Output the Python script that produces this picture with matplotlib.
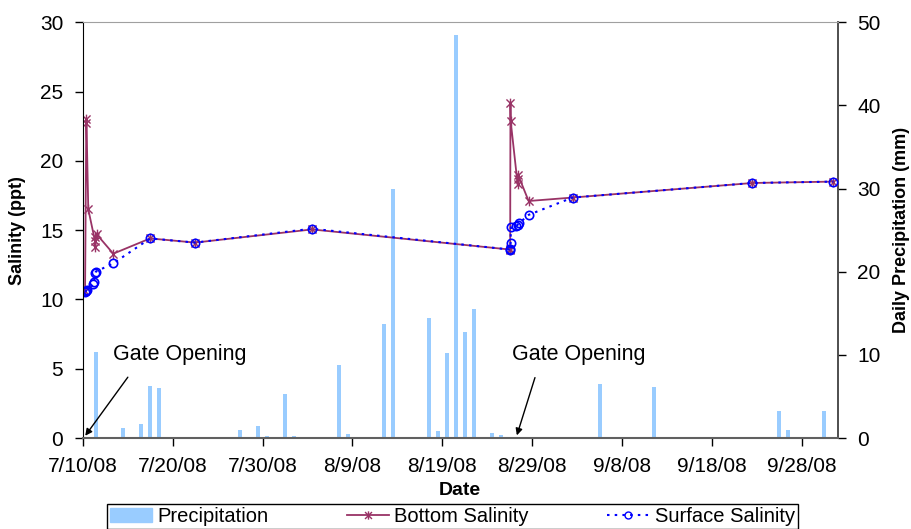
from datetime import datetime
import matplotlib
matplotlib.use("Agg")
import matplotlib.pyplot as plt
import matplotlib.dates as mdates
from matplotlib.path import Path
from matplotlib.patches import Patch
from matplotlib.lines import Line2D

plt.rcParams['font.family'] = ['Liberation Sans', 'DejaVu Sans']

START = datetime(2008, 7, 10)

# daily precipitation (mm)
precip_dates = ["7/11", "7/14", "7/16", "7/17", "7/18", "7/27", "7/29", "7/30",
                "8/1", "8/2", "8/7", "8/8", "8/12", "8/13", "8/17", "8/18",
                "8/19", "8/20", "8/21", "8/22", "8/24", "8/25", "9/5", "9/11",
                "9/25", "9/26", "9/30"]
precip_mm = [10.4, 1.2, 1.7, 6.3, 6.0, 1.0, 1.5, 0.3,
             5.3, 0.3, 8.8, 0.5, 13.7, 29.9, 14.4, 0.8,
             10.2, 48.5, 12.7, 15.5, 0.6, 0.4, 6.5, 6.1,
             3.3, 1.0, 3.3]

# salinity samples, time as days after 7/10/08 00:00
bottom_days = [0.26, 0.40, 0.42, 0.62, 1.37, 1.40, 1.42, 1.55, 3.4, 7.5, 12.5,
               25.5, 47.50, 47.55, 47.58, 47.60, 48.38, 48.40, 48.42, 49.6,
               54.5, 74.5, 83.5]
bottom_sal = [10.6, 23.0, 22.7, 16.5, 14.2, 13.8, 14.5, 14.7, 13.3, 14.4, 14.1,
              15.05, 13.6, 13.65, 24.2, 22.9, 18.3, 18.7, 19.0, 17.1,
              17.35, 18.4, 18.5]

surface_days = [0.26, 0.35, 0.50, 1.15, 1.25, 1.40, 1.45, 3.4, 7.5, 12.5,
                25.5, 47.50, 47.55, 47.60, 47.62, 48.25, 48.40, 48.55, 49.6,
                54.5, 74.5, 83.5]
surface_sal = [10.55, 10.6, 10.7, 11.1, 11.25, 11.9, 12.0, 12.6, 14.4, 14.1,
               15.1, 13.6, 13.65, 14.1, 15.2, 15.3, 15.4, 15.5, 16.1,
               17.35, 18.4, 18.5]

base = mdates.date2num(START)
px = [mdates.date2num(datetime.strptime(d + "/2008", "%m/%d/%Y")) + 0.5 for d in precip_dates]
bx = [base + d for d in bottom_days]
sx = [base + d for d in surface_days]

fig = plt.figure(figsize=(9.12, 5.29), dpi=100)
ax = fig.add_axes([0.0907, 0.172, 0.828, 0.786])
ax2 = ax.twinx()
ax2.set_zorder(ax.get_zorder() - 1)
ax.patch.set_visible(False)

ax2.bar(px, precip_mm, width=0.45, color="#99CCFF", linewidth=0)
ax2.set_ylim(0, 50)
ax2.set_yticks(range(0, 51, 10))

star = Path([(-1, -1), (1, 1), (-1, 1), (1, -1), (0, -1.2), (0, 1.2)],
            [Path.MOVETO, Path.LINETO, Path.MOVETO, Path.LINETO, Path.MOVETO, Path.LINETO])

ax.plot(bx, bottom_sal, color="#993366", lw=1.3, marker=star, ms=7, mew=1.0)
ax.plot(sx, surface_sal, color="#0000FF", lw=1.5, ls=(0, (1.2, 2.5)), marker="o",
        ms=6, mfc="none", mec="#0000FF", mew=1.2)

ax.set_xlim(base, base + 84)
ax.set_ylim(0, 30)
ax.set_yticks(range(0, 31, 5))
ax.set_xticks([base + 10 * i for i in range(9)])
ax.xaxis.set_major_formatter(plt.FuncFormatter(
    lambda v, p: "{d.month}/{d.day}/{d:%y}".format(d=mdates.num2date(v))))

ax.set_xlabel("Date", fontsize=14, fontweight="bold", labelpad=4)
ax.set_ylabel("Salinity (ppt)", fontsize=13, fontweight="bold", labelpad=10)
ax2.set_ylabel("Daily Precipitation (mm)", fontsize=13, fontweight="bold", labelpad=9)

for a in (ax, ax2):
    a.tick_params(labelsize=15, length=6, width=1, direction="out")
ax.tick_params(axis="x", pad=8)
ax.tick_params(axis="y", pad=8)
ax2.tick_params(axis="y", pad=8)
ax.spines["top"].set_color("#A0A0A0")
ax2.spines["top"].set_visible(False)
ax.spines["bottom"].set_color("#606060")
ax.spines["bottom"].set_linewidth(1.5)
ax2.spines["bottom"].set_visible(False)
ax2.spines["right"].set_color("#404040")
ax2.spines["right"].set_linewidth(1.3)
ax.spines["right"].set_visible(False)
ax2.spines["left"].set_visible(False)

arrow = dict(arrowstyle="-|>", color="black", lw=1, mutation_scale=10)
ax.text(base + 3.4, 6.0, "Gate Opening", fontsize=15.5, va="center")
ax.annotate("", xy=(base + 0.1, 0), xytext=(base + 5.2, 4.55), arrowprops=arrow)
ax.text(base + 47.7, 6.0, "Gate Opening", fontsize=15.5, va="center")
ax.annotate("", xy=(base + 48.2, 0), xytext=(base + 50.4, 4.55), arrowprops=arrow)

handles = [Patch(color="#99CCFF"),
           Line2D([], [], color="#993366", lw=1.3, marker=star, ms=6, mew=1.0),
           Line2D([], [], color="#0000FF", lw=1.5, ls=(0, (1.2, 2.5)), marker="o",
                  ms=5, mfc="none", mec="#0000FF")]
labels = ["Precipitation", "Bottom Salinity", "Surface Salinity"]
fig.legend(handles, labels, loc="upper center", bbox_to_anchor=(0.496, 0.047),
           ncol=3, fontsize=14.5, frameon=True, fancybox=False, edgecolor="black",
           handlelength=2.1, columnspacing=3.9, handletextpad=0.25,
           borderpad=0.15, borderaxespad=0, framealpha=1)

fig.savefig("out.png", dpi=100)
